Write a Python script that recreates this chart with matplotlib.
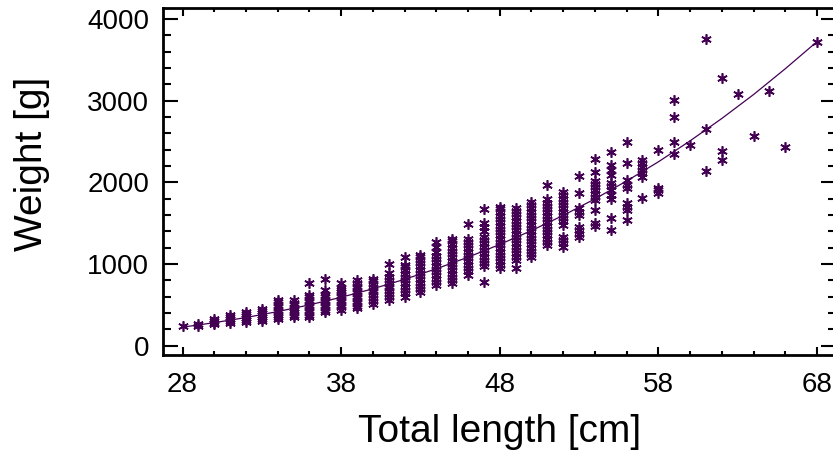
import matplotlib
matplotlib.use("Agg")
import matplotlib.pyplot as plt
from matplotlib.ticker import MultipleLocator, FixedLocator

plt.rcParams['font.family'] = ['Liberation Sans', 'DejaVu Sans']

# ---- data ----
lengths = [28, 29, 30, 31, 32, 33, 34, 35, 36, 37, 38, 39, 40, 41, 42, 43, 44, 45, 46, 47,
           48, 49, 50, 51, 52, 53, 54, 55, 56, 57, 58, 59, 60, 61, 62, 63, 64, 65, 66, 68]

weights_by_length = [
    [235],
    [240, 258],
    [260, 280, 300, 320],
    [275, 300, 325, 350, 370],
    [285, 310, 335, 360, 385, 410],
    [295, 320, 345, 370, 395, 420, 450],
    [320, 350, 380, 410, 440, 470, 500, 530, 560],
    [345, 375, 405, 435, 465, 495, 525, 555],
    [350, 380, 410, 440, 470, 500, 530, 560, 590, 620, 770],
    [410, 440, 470, 500, 530, 560, 590, 620, 680, 810],
    [440, 470, 500, 530, 560, 590, 620, 650, 680, 710, 760],
    [460, 490, 520, 550, 580, 610, 640, 670, 700, 730, 760, 800],
    [510, 545, 580, 615, 650, 685, 720, 755, 790, 820],
    [560, 595, 630, 665, 700, 735, 770, 805, 840, 885, 1000],
    [600, 640, 680, 720, 760, 800, 840, 880, 920, 960, 990, 1080],
    [650, 690, 730, 770, 810, 850, 890, 930, 970, 1010, 1050, 1090, 1110],
    [740, 780, 820, 860, 900, 940, 980, 1020, 1060, 1100, 1150, 1210, 1270],
    [760, 800, 840, 880, 920, 960, 1000, 1040, 1080, 1120, 1160, 1200, 1240, 1280, 1310],
    [870, 910, 950, 990, 1030, 1070, 1110, 1150, 1190, 1230, 1270, 1310, 1490],
    [780, 970, 1010, 1050, 1090, 1130, 1170, 1210, 1250, 1290, 1330, 1400, 1450, 1500, 1670],
    [950, 990, 1030, 1070, 1110, 1150, 1190, 1230, 1270, 1310, 1350, 1390, 1430, 1470,
     1510, 1550, 1590, 1630, 1670, 1700],
    [950, 1050, 1090, 1130, 1170, 1210, 1250, 1290, 1330, 1370, 1410, 1450, 1490, 1530,
     1570, 1610, 1650, 1680],
    [1080, 1120, 1160, 1200, 1240, 1280, 1320, 1360, 1400, 1440, 1480, 1520, 1560, 1600,
     1640, 1680, 1720, 1760],
    [1230, 1270, 1310, 1350, 1390, 1430, 1470, 1510, 1550, 1590, 1630, 1670, 1710, 1750,
     1800, 1966],
    [1210, 1250, 1290, 1333, 1480, 1520, 1560, 1600, 1640, 1680, 1720, 1760, 1800, 1840, 1880],
    [1330, 1370, 1410, 1456, 1600, 1640, 1680, 1870, 2080],
    [1460, 1500, 1660, 1780, 1820, 1860, 1900, 1940, 1980, 2020, 2130, 2290],
    [1415, 1558, 1800, 1850, 1900, 1950, 1990, 2090, 2150, 2210, 2374],
    [1537, 1660, 1700, 1742, 1925, 1970, 2027, 2240, 2497],
    [1803, 2068, 2110, 2150, 2190, 2230, 2272],
    [1870, 1905, 1925, 2395],
    [2342, 2489, 2795, 3008],
    [2456],
    [2138, 2648, 3755],
    [2272, 2383, 3273],
    [3081],
    [2566],
    [3118],
    [2435],
    [3722],
]

# fitted length-weight curve
curve_length = [28, 30, 32, 34, 36, 38, 40, 42, 44, 46, 48, 50, 52, 54, 56, 58, 60, 62, 64, 66, 68]
curve_weight = [225, 280, 343, 416, 498, 591, 695, 811, 940, 1082, 1238, 1408, 1594, 1796,
                2015, 2250, 2507, 2781, 3074, 3390, 3722]

x_ticks = [28, 38, 48, 58, 68]
y_ticks = [0, 1000, 2000, 3000, 4000]

color = '#440154'

fig = plt.figure(figsize=(8.33, 4.54), dpi=100)
ax = fig.add_axes([0.19568, 0.21806, 0.8079, 0.76366])

xs = []
ys = []
for L, ws in zip(lengths, weights_by_length):
    for w in ws:
        xs.append(L)
        ys.append(w)

ax.plot(xs, ys, linestyle='none', marker=(6, 2, 0), markersize=7.5,
        markeredgewidth=1.2, color=color)
ax.plot(curve_length, curve_weight, color=color, linewidth=0.9)

ax.set_xlim(26.77, 69.2)
ax.set_ylim(-116, 4131)

ax.xaxis.set_major_locator(FixedLocator(x_ticks))
ax.xaxis.set_minor_locator(MultipleLocator(2))
ax.yaxis.set_major_locator(FixedLocator(y_ticks))
ax.yaxis.set_minor_locator(MultipleLocator(200))

for s in ax.spines.values():
    s.set_linewidth(2.0)

ax.tick_params(axis='x', which='major', direction='in', length=5.8, width=1.5,
               top=True, bottom=True, labelsize=20, pad=12)
ax.tick_params(axis='x', which='minor', direction='in', length=3.0, width=1.5,
               top=True, bottom=True)
ax.tick_params(axis='y', which='major', direction='in', length=10.8, width=1.5,
               left=True, right=True, labelsize=20, pad=10)
ax.tick_params(axis='y', which='minor', direction='in', length=5.8, width=1.5,
               left=True, right=True)

ax.set_xlabel('Total length [cm]', fontsize=28)
ax.set_ylabel('Weight [g]', fontsize=28)
ax.xaxis.set_label_coords(0.5007, -0.169)
ax.yaxis.set_label_coords(-0.168, 0.551)

fig.savefig('out.png', dpi=100)
